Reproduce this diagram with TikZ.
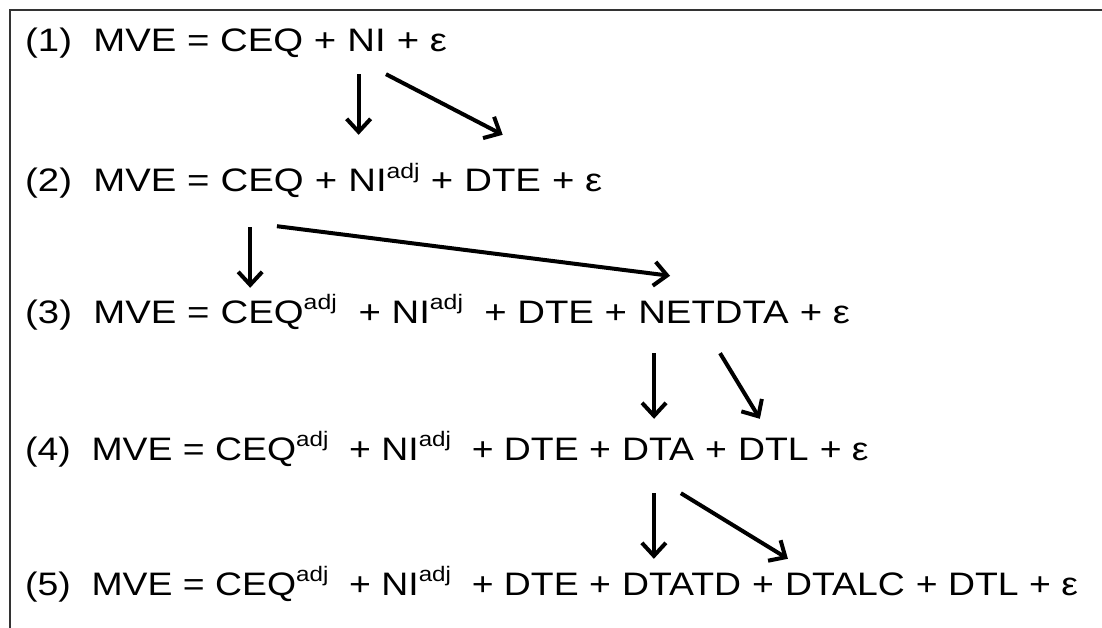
\documentclass[tikz,border=0pt]{standalone}
\usepackage{fontspec}
\setmainfont{Liberation Sans}[FakeStretch=1.18]
\newfontfamily\narrowfont{Liberation Sans}[FakeStretch=1.15]
\usetikzlibrary{positioning,calc,arrows.meta}

% raised "adj" index
\newcommand{\adj}{\raisebox{0.42em}{\fontsize{21}{21}\selectfont adj}}

\tikzset{
  eq/.style={inner sep=0pt, text height=23pt, text depth=0pt, font=\fontsize{32.5}{40}\selectfont},
  eqn/.style={eq, font=\narrowfont\fontsize{32.5}{40}\selectfont},
  arr/.style={black, line width=4pt, -{Straight Barb[length=13pt,width=24pt]}}
}

\begin{document}
\begin{tikzpicture}[x=1pt, y=-1pt, node distance=10.7pt]
  \useasboundingbox (0,0) rectangle (1102,628);
  \draw[line width=2.5pt, black!80] (10,640) -- (10,10) -- (1110,10);

  % (1)
  \node[eq, anchor=base west] (n1) at (25,52) {(1)\ \ MVE = CEQ +};
  \node[eq, base right=of n1] (ni1) {NI};
  \node[eq, base right=of ni1] (r1) {+ ε};

  % (2)
  \node[eq, anchor=base west] (n2) at (25,192) {(2)\ \ MVE =};
  \node[eq, base right=of n2] (ceq2) {CEQ};
  \node[eq, base right=of ceq2] (p2) {+};
  \node[eq, base right=of p2] (ni2) {NI\adj};
  \node[eq, base right=of ni2] (q2) {+};
  \node[eq, base right=of q2] (dte2) {DTE};
  \node[eq, base right=of dte2] (r2) {+ ε};

  % (3)
  \node[eq, anchor=base west] (n3) at (25,323) {(3)\ \ MVE =};
  \node[eq, base right=of n3] (ceq3) {CEQ\adj};
  \node[eq, base right=of ceq3] (m3) {\ + NI\adj\ \ + DTE +};
  \node[eq, base right=of m3] (netdta3) {NETDTA};
  \node[eq, base right=of netdta3] (r3) {+ ε};

  % (4)
  \node[eqn, anchor=base west] (n4) at (25,460) {(4)\ \ MVE = CEQ\adj\ \ + NI\adj\ \ + DTE +};
  \node[eqn, base right=of n4] (dta4) {DTA};
  \node[eqn, base right=of dta4] (p4) {+};
  \node[eqn, base right=of p4] (dtl4) {DTL};
  \node[eqn, base right=of dtl4] (r4) {+ ε};

  % (5)
  \node[eqn, anchor=base west] (n5) at (25,595) {(5)\ \ MVE = CEQ\adj\ \ + NI\adj\ \ + DTE +};
  \node[eqn, base right=of n5] (dtatd5) {DTATD};
  \node[eqn, base right=of dtatd5] (p5) {+};
  \node[eqn, base right=of p5] (dtalc5) {DTALC};
  \node[eqn, base right=of dtalc5] (r5) {+ DTL + ε};

  % arrows between the steps
  \draw[arr] ($(ni1.south)+(-8,22)$) -- ($(ni1.south |- ni2.north)+(-8,-34)$);
  \draw[arr] ($(ni1.south east)+(0,22)$) -- ($(dte2.north)+(0,-34)$);
  \draw[arr] ($(ceq2.south)+(-12,35)$) -- ($(ceq2.south |- ceq3.north)+(-12,-12)$);
  \draw[arr] ($(ceq2.south east)+(-27,34)$) -- ($(netdta3.north west)+(32,-24)$);
  \draw[arr] ($(netdta3.south west)+(16,30)$) -- ($(netdta3.south west |- dta4.north)+(16,-18)$);
  \draw[arr] ($(netdta3.south west)+(82,30)$) -- ($(dtl4.north west)+(22,-18)$);
  \draw[arr] ($(dta4.south west)+(32,33)$) -- ($(dta4.south west |- dtatd5.north)+(32,-13)$);
  \draw[arr] ($(dta4.south west)+(59,33)$) -- ($(dtalc5.north west)+(3,-13)$);
\end{tikzpicture}
\end{document}
